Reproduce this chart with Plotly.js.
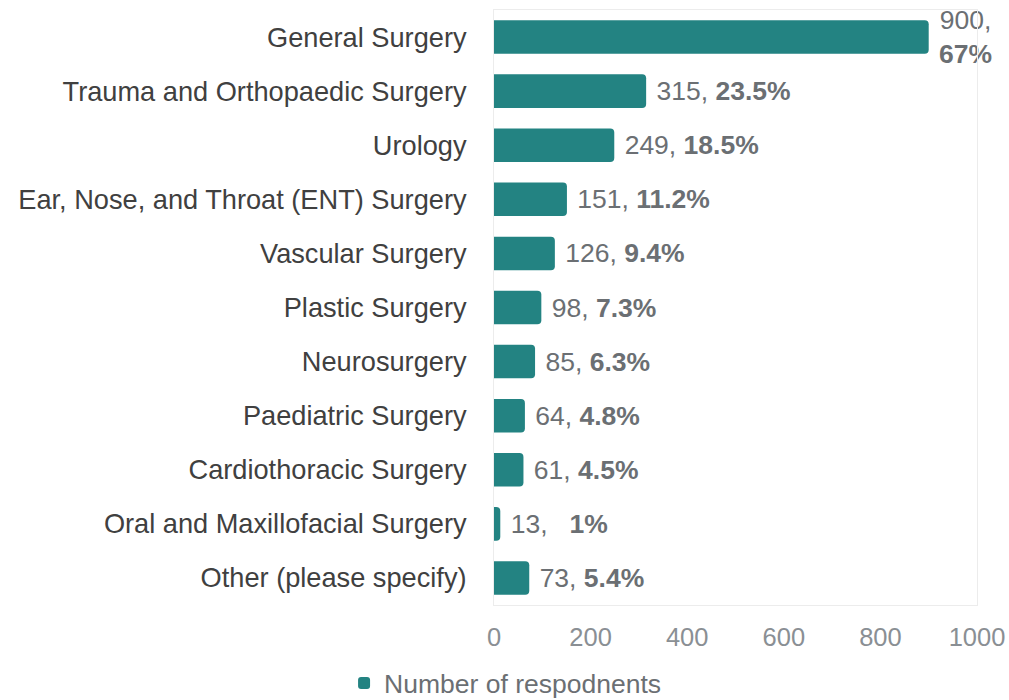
<!DOCTYPE html>
<html><head><meta charset="utf-8">
<script src="https://cdn.plot.ly/plotly-3.0.1.min.js"></script>
<style>html,body{margin:0;padding:0;background:#fff}#c{width:1009px;height:700px}</style>
</head><body><div id="c"></div>
<script>
const categories = ["General Surgery","Trauma and Orthopaedic Surgery","Urology","Ear, Nose, and Throat (ENT) Surgery","Vascular Surgery","Plastic Surgery","Neurosurgery","Paediatric Surgery","Cardiothoracic Surgery","Oral and Maxillofacial Surgery","Other (please specify)"];
const counts = [900,315,249,151,126,98,85,64,61,13,73];
const percents = ["67%","23.5%","18.5%","11.2%","9.4%","7.3%","6.3%","4.8%","4.5%","1%","5.4%"];
const seriesName = "Number of respodnents";

const labels = counts.map((c,i)=> i===0 ? " "+c+",<br> <b>"+percents[i]+"</b>" : (c===13 ? " "+c+",   <b>"+percents[i]+"</b>" : " "+c+", <b>"+percents[i]+"</b>"));

const trace = {
  type:'bar', orientation:'h', y:categories, x:counts, name:seriesName,
  marker:{color:'#238382'},
  text:labels, textposition:'outside', cliponaxis:false, constraintext:'none',
  textfont:{family:'Liberation Sans, Arial, sans-serif', size:26.5, color:'#6b6f73'},
  hoverinfo:'none'
};
const layout = {
  width:1009, height:700,
  margin:{l:494,r:32,t:10,b:95, autoexpand:false},
  paper_bgcolor:'#fff', plot_bgcolor:'#fff',
  bargap:0.38, barcornerradius:4,
  font:{family:'Liberation Sans, Arial, sans-serif', size:26, color:'#444444'},
  xaxis:{range:[0,1000], tickvals:[0,200,400,600,800,1000], showgrid:false, zeroline:false,
    showline:true, mirror:true, linecolor:'#ececec', linewidth:1,
    tickfont:{size:25.5,color:'#8a8f94'}, ticks:'', ticklabelstandoff:9},
  yaxis:{autorange:'reversed', showgrid:false, zeroline:false, showline:true, mirror:true,
    linecolor:'#ececec', tickfont:{size:27.2,color:'#404040'}, ticks:'', ticklabelstandoff:21},
  showlegend:true,
  legend:{orientation:'h', xref:'container', yref:'container', x:0.341, xanchor:'left', y:0.024, yanchor:'middle',
    font:{size:26.5,color:'#6b6f73'}, itemwidth:30}
};
Plotly.newPlot('c',[trace],layout,{staticPlot:true});
</script></body></html>
